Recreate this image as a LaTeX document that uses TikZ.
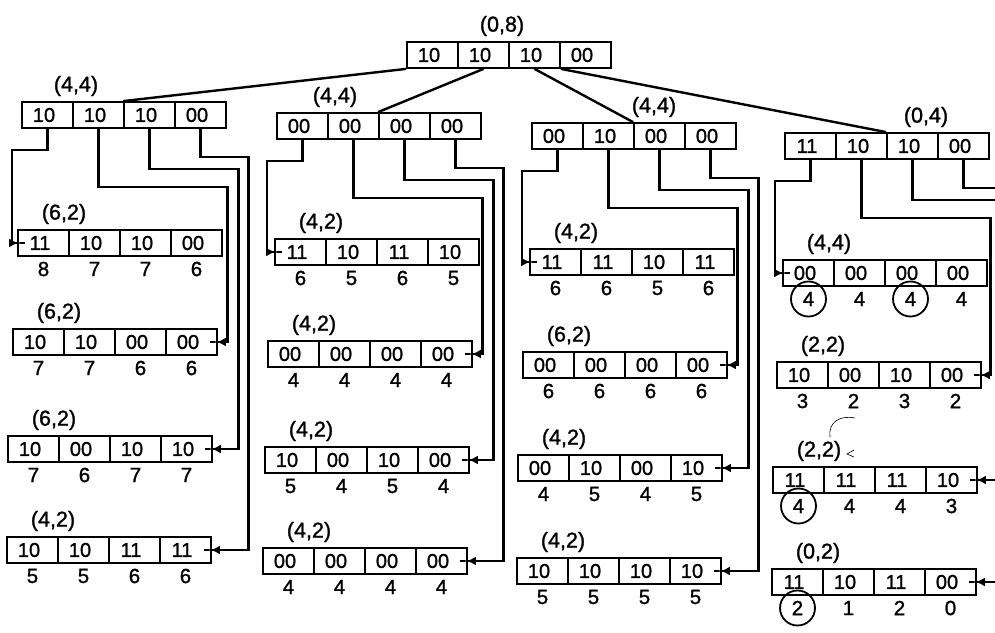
\documentclass[tikz,border=0pt]{standalone}
\usepackage{fontspec}
\setmainfont{Liberation Sans}
\newfontfamily\scanfont{Liberation Sans}[FakeBold=1.2]
\usetikzlibrary{arrows.meta}

% one register: name, left x, centre y, label shift, label, cell values
\newcommand{\regbox}[6]{%
  \node[lbl] (#1-l) at ({#2+#4},{#3-29}) {#5};
  \foreach \v [count=\i] in {#6}
    \node[cell] (#1-\i) at ({#2+25.5+51*(\i-1)},#3) {\v};
}
% the numbers under the cells of a register
\newcommand{\regnums}[2]{%
  \foreach \v [count=\i] in {#2}
    \node[num] (#1-n\i) at ([yshift=-26pt]#1-\i.center) {\v};
}

\begin{document}
\begin{tikzpicture}[x=1pt, y=-1pt,
  cell/.style={draw=black, line width=1.8pt, minimum width=51pt, minimum height=26pt,
    inner sep=0pt, font=\scanfont\fontsize{20pt}{20pt}\selectfont, execute at end node={\hspace*{7pt}}},
  lbl/.style={inner sep=0pt, font=\scanfont\fontsize{21.5pt}{21.5pt}\selectfont},
  num/.style={inner sep=0pt, font=\scanfont\fontsize{20.5pt}{20.5pt}\selectfont},
  ring/.style={circle, draw=black, line width=1.8pt, minimum size=35pt, inner sep=0pt},
  link/.style={draw=black, line width=2.4pt},
  intip/.style={-{Latex[length=9pt,width=9pt] Rectangle[length=8pt,width=2.4pt]}}
]
\useasboundingbox (0,0) rectangle (995,632);
\clip (0,0) rectangle (995,632);

% ---- Registers ----
\regbox{t}{407}{55}{95}{(0,8)}{10,10,10,00}

\regbox{a}{22}{115}{54}{(4,4)}{10,10,10,00}
\regbox{b}{277}{126}{58}{(4,4)}{00,00,00,00}
\regbox{c}{532}{136}{122}{(4,4)}{00,10,00,00}
\regbox{d}{785}{146}{141}{(0,4)}{11,10,10,00}

\regbox{a1}{18}{243}{46}{(6,2)}{11,10,10,00}  \regnums{a1}{8,7,7,6}
\regbox{a2}{13}{342}{46}{(6,2)}{10,10,00,00}  \regnums{a2}{7,7,6,6}
\regbox{a3}{8}{449}{46}{(6,2)}{10,00,10,10}   \regnums{a3}{7,6,7,7}
\regbox{a4}{7}{550}{46}{(4,2)}{10,10,11,11}   \regnums{a4}{5,5,6,6}

\regbox{b1}{275}{252}{46}{(4,2)}{11,10,11,10} \regnums{b1}{6,5,6,5}
\regbox{b2}{268}{354}{46}{(4,2)}{00,00,00,00} \regnums{b2}{4,4,4,4}
\regbox{b3}{265}{460}{46}{(4,2)}{10,00,10,00} \regnums{b3}{5,4,5,4}
\regbox{b4}{263}{561}{46}{(4,2)}{00,00,00,00} \regnums{b4}{4,4,4,4}

\regbox{c1}{530}{262}{46}{(4,2)}{11,11,10,11} \regnums{c1}{6,6,5,6}
\regbox{c2}{523}{365}{46}{(6,2)}{00,00,00,00} \regnums{c2}{6,6,6,6}
\regbox{c3}{518}{468}{46}{(4,2)}{00,10,00,10} \regnums{c3}{4,5,4,5}
\regbox{c4}{517}{571}{46}{(4,2)}{10,10,10,10} \regnums{c4}{5,5,5,5}

\regbox{d1}{783}{273}{46}{(4,4)}{00,00,00,00} \regnums{d1}{4,4,4,4}
\regbox{d2}{777}{375}{46}{(2,2)}{10,00,10,00} \regnums{d2}{3,2,3,2}
\regbox{d3}{773}{480}{46}{(2,2)}{11,11,11,10} \regnums{d3}{4,4,4,3}
\regbox{d4}{772}{582}{46}{(0,2)}{11,10,11,00} \regnums{d4}{2,1,2,0}

\node[ring] (d1-r1) at (d1-n1) {};
\node[ring] (d1-r3) at (d1-n3) {};
\node[ring] (d3-r1) at (d3-n1) {};
\node[ring] (d4-r1) at (d4-n1) {};

% ---- Top level ----
\draw[link] (t-1.south west) -- (a-3.north west);
\draw[link] (t-2.south) -- (b-3.north west);
\draw[link] (t-3.south) -- (c-3.north west);
\draw[link] (t-3.south east) -- (d-3.north west);

% ---- Second level ----
\draw[link, intip] (a-1.south) -- ++(0,21) -- ++(-35.5,0) |- ([xshift=9pt]a1-1.west);
\draw[link, intip] (a-2.south) -- ++(0,58) -- ++(129,0) |- ([xshift=-9pt]a2-4.east);
\draw[link, intip] (a-3.south) -- ++(0,40) -- ++(89,0) |- ([xshift=-9pt]a3-4.east);
\draw[link, intip] (a-4.south) -- ++(0,28) -- ++(48,0) |- ([xshift=-9pt]a4-4.east);

\draw[link, intip] (b-1.south) -- ++(0,21) -- ++(-35.5,0) |- ([xshift=9pt]b1-1.west);
\draw[link, intip] (b-2.south) -- ++(0,58) -- ++(129,0) |- ([xshift=-9pt]b2-4.east);
\draw[link, intip] (b-3.south) -- ++(0,40) -- ++(89,0) |- ([xshift=-9pt]b3-4.east);
\draw[link, intip] (b-4.south) -- ++(0,28) -- ++(48,0) |- ([xshift=-9pt]b4-4.east);

\draw[link, intip] (c-1.south) -- ++(0,21) -- ++(-35.5,0) |- ([xshift=9pt]c1-1.west);
\draw[link, intip] (c-2.south) -- ++(0,58) -- ++(129,0) |- ([xshift=-9pt]c2-4.east);
\draw[link, intip] (c-3.south) -- ++(0,40) -- ++(89,0) |- ([xshift=-9pt]c3-4.east);
\draw[link, intip] (c-4.south) -- ++(0,28) -- ++(48,0) |- ([xshift=-9pt]c4-4.east);

\draw[link, intip] (d-1.south) -- ++(0,21) -- ++(-35.5,0) |- ([xshift=9pt]d1-1.west);
\draw[link, intip] (d-2.south) -- ++(0,58) -- ++(129,0) |- ([xshift=-9pt]d2-4.east);
\draw[link, intip] (d-3.south) -- ++(0,40) -- ++(89,0) |- ([xshift=-9pt]d3-4.east);
\draw[link, intip] (d-4.south) -- ++(0,28) -- ++(48,0) |- ([xshift=-9pt]d4-4.east);

% pencil mark by (2,2)
\draw[line width=0.6pt] (830,437) .. controls (828,422) and (840,415) .. (855,418);
\draw[line width=0.6pt] (854,450) -- (847,454) -- (854,457);
\end{tikzpicture}
\end{document}
